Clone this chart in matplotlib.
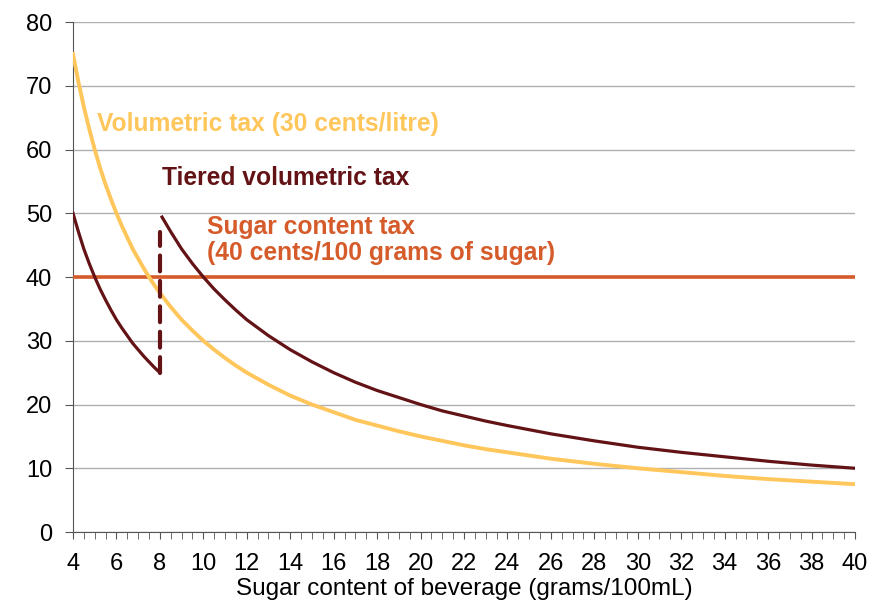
import numpy as np
import matplotlib.pyplot as plt
from matplotlib.ticker import MultipleLocator

plt.rcParams['font.family'] = ['Liberation Sans', 'DejaVu Sans']

# values (tax vs sugar content, g/100mL)
vol_x = [4, 4.25, 4.5, 4.75, 5, 5.25, 5.5, 5.75, 6, 6.25, 6.5, 6.75, 7, 7.25, 7.5, 7.75,
         8, 8.5, 9, 9.5, 10, 10.5, 11, 11.5, 12, 13, 14, 15, 16, 17, 18, 19,
         20, 21, 22, 23, 24, 26, 28, 30, 32, 34, 36, 38, 40]
vol_y = [75, 70.6, 66.7, 63.2, 60, 57.1, 54.5, 52.2, 50, 48, 46.2, 44.4, 42.9, 41.4, 40, 38.7,
         37.5, 35.3, 33.3, 31.6, 30, 28.6, 27.3, 26.1, 25, 23.1, 21.4, 20, 18.8, 17.6, 16.7, 15.8,
         15, 14.3, 13.6, 13.0, 12.5, 11.5, 10.7, 10, 9.4, 8.8, 8.3, 7.9, 7.5]

tier_lo_x = [4, 4.25, 4.5, 4.75, 5, 5.25, 5.5, 5.75, 6, 6.25, 6.5, 6.75, 7, 7.25, 7.5, 7.75, 8]
tier_lo_y = [50, 47.1, 44.4, 42.1, 40, 38.1, 36.4, 34.8, 33.3, 32, 30.8, 29.6, 28.6, 27.6,
             26.7, 25.8, 25]

tier_hi_x = [8.1, 8.5, 9, 9.5, 10, 10.5, 11, 11.5, 12, 13, 14, 15, 16, 17, 18, 19, 20, 21,
             22, 23, 24, 26, 28, 30, 32, 34, 36, 38, 40]
tier_hi_y = [49.4, 47.1, 44.4, 42.1, 40, 38.1, 36.4, 34.8, 33.3, 30.8, 28.6, 26.7, 25, 23.5,
             22.2, 21.1, 20, 19.0, 18.2, 17.4, 16.7, 15.4, 14.3, 13.3, 12.5, 11.8, 11.1, 10.5, 10]

sugar_x = [4, 40]
sugar_y = [40, 40]

# jump between the two tiers
step_x = [8, 8]
step_y = [25, 47]

c_vol = '#FFC65C'
c_tier = '#631316'
c_sugar = '#D65B2B'

fig = plt.figure(figsize=(8.72, 6.03), dpi=100)
ax = fig.add_axes([0.0837, 0.1177, 0.8968, 0.8458])

ax.plot(sugar_x, sugar_y, color=c_sugar, lw=2.6, solid_capstyle='butt', zorder=3)
ax.plot(vol_x, vol_y, color=c_vol, lw=2.8, zorder=4)
ax.plot(tier_lo_x, tier_lo_y, color=c_tier, lw=2.3, zorder=5)
ax.plot(tier_hi_x, tier_hi_y, color=c_tier, lw=2.3, zorder=5)
ax.plot(step_x, step_y, color=c_tier, lw=3, dashes=(3.8, 2.3), dash_capstyle='round',
        zorder=5)

ax.text(5.1, 64, 'Volumetric tax (30 cents/litre)', color=c_vol, fontsize=17.7,
        fontweight='bold', va='center', ha='left')
ax.text(8.1, 55.5, 'Tiered volumetric tax', color=c_tier, fontsize=17.7,
        fontweight='bold', va='center', ha='left')
ax.text(10.17, 45.8, 'Sugar content tax\n(40 cents/100 grams of sugar)', color=c_sugar,
        fontsize=17.7, fontweight='bold', va='center', ha='left', linespacing=1.15)

ax.set_xlim(4, 40)
ax.set_ylim(0, 80)
ax.set_xticks(np.arange(4, 41, 2))
ax.xaxis.set_minor_locator(MultipleLocator(0.5))
ax.set_yticks(np.arange(0, 81, 10))
ax.yaxis.grid(True, color='#AEB0B3', lw=1)
ax.set_axisbelow(True)
for s in ['top', 'right']:
    ax.spines[s].set_visible(False)
ax.spines['left'].set_color('#555555')
ax.spines['bottom'].set_color('#555555')
ax.tick_params(axis='x', which='both', direction='out', length=5, color='#555555',
               labelsize=17, pad=10)
ax.tick_params(axis='y', direction='out', length=6, color='#555555', labelsize=17, pad=9)
ax.set_xlabel('Sugar content of beverage (grams/100mL)', fontsize=17.5, labelpad=2)

fig.savefig('out.png', dpi=100)
